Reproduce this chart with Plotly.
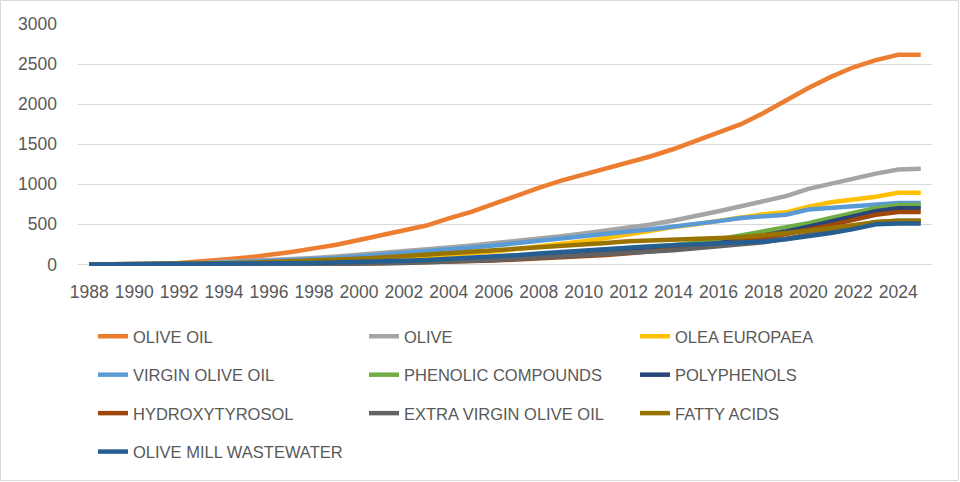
import plotly.graph_objects as go

years = list(range(1988, 2026))

olive_oil = [0, 1, 3, 8, 18, 35, 60, 85, 115, 155, 200, 245, 305, 365, 425, 485, 575, 655, 755, 860,
             955, 1045, 1120, 1195, 1270, 1350, 1440, 1540, 1640, 1750, 1890, 2050, 2200, 2340, 2460,
             2550, 2615, 2615]
olive = [0, 0, 2, 5, 10, 18, 28, 40, 52, 65, 80, 98, 118, 140, 162, 185, 210, 235, 262, 290,
         320, 350, 385, 420, 455, 498, 548, 602, 664, 726, 790, 851, 942, 1008, 1067, 1133, 1183, 1195]
olea_europaea = [0, 0, 0, 1, 3, 6, 10, 14, 20, 27, 35, 45, 57, 70, 85, 100, 118, 138, 160, 190,
                 220, 255, 290, 330, 375, 425, 465, 500, 545, 590, 625, 650, 720, 775, 810, 845, 895, 895]
virgin_olive_oil = [0, 0, 1, 3, 7, 13, 20, 30, 40, 52, 65, 80, 98, 118, 140, 165, 190, 210, 235, 262,
                    290, 315, 345, 375, 410, 440, 470, 500, 540, 580, 600, 620, 685, 706, 726, 747, 765, 765]
phenolic_compounds = [0, 0, 0, 0, 1, 1, 2, 3, 5, 7, 10, 14, 18, 24, 31, 40, 50, 62, 75, 90,
                      105, 122, 140, 160, 185, 210, 240, 270, 310, 360, 410, 455, 515, 580, 645, 705, 740, 740]
polyphenols = [0, 0, 0, 0, 1, 1, 2, 3, 4, 6, 8, 11, 15, 20, 26, 33, 42, 52, 63, 76,
               90, 105, 122, 140, 160, 182, 205, 230, 265, 310, 360, 410, 470, 535, 600, 665, 700, 700]
hydroxytyrosol = [0, 0, 0, 0, 0, 1, 1, 2, 3, 4, 6, 8, 11, 15, 20, 26, 33, 41, 50, 60,
                  72, 85, 100, 118, 138, 160, 185, 212, 245, 285, 330, 380, 430, 490, 555, 620, 655, 655]
extra_virgin_olive_oil = [0, 0, 0, 0, 0, 0, 1, 1, 2, 3, 4, 6, 9, 13, 18, 25, 33, 42, 55, 70,
                          85, 100, 112, 122, 135, 152, 175, 200, 222, 242, 275, 320, 375, 430, 480, 530, 545, 545]
fatty_acids = [0, 0, 1, 2, 4, 8, 13, 20, 28, 37, 47, 58, 70, 85, 102, 120, 138, 155, 172, 190,
               208, 228, 248, 268, 288, 300, 310, 318, 325, 340, 365, 390, 420, 455, 490, 525, 545, 545]
olive_mill_wastewater = [0, 0, 0, 1, 2, 3, 5, 7, 10, 13, 18, 22, 28, 36, 45, 55, 68, 82, 98, 115,
                         135, 155, 175, 195, 212, 225, 238, 248, 255, 262, 285, 315, 350, 390, 440, 500, 510, 510]

series_names = ["OLIVE OIL", "OLIVE", "OLEA EUROPAEA", "VIRGIN OLIVE OIL", "PHENOLIC COMPOUNDS",
                "POLYPHENOLS", "HYDROXYTYROSOL", "EXTRA VIRGIN OLIVE OIL", "FATTY ACIDS",
                "OLIVE MILL WASTEWATER"]
series_values = [olive_oil, olive, olea_europaea, virgin_olive_oil, phenolic_compounds, polyphenols,
                 hydroxytyrosol, extra_virgin_olive_oil, fatty_acids, olive_mill_wastewater]
colors = ["#ED7D31", "#A5A5A5", "#FFC000", "#5B9BD5", "#70AD47", "#264478", "#9E480E",
          "#636363", "#997300", "#255E91"]

x_tick_vals = list(range(1988, 2025, 2))
x_tick_text = [str(v) for v in x_tick_vals]
y_tick_vals = [0, 500, 1000, 1500, 2000, 2500, 3000]

W, H = 960, 482
ML, MR, MT, MB = 78, 28, 24, 216
FONT = "Liberation Sans, Arial, sans-serif"
TXT = "#595959"

# legend columns (Excel lays the legend out row by row in 3 columns)
legend_ids = ["legend", "legend2", "legend3"]

fig = go.Figure()
for i, (name, vals, col) in enumerate(zip(series_names, series_values, colors)):
    fig.add_trace(go.Scatter(
        x=years, y=vals, name=name, mode="lines",
        line=dict(color=col, width=4.5),
        legend=legend_ids[i % 3], legendgroup=name,
        hoverinfo="x+y+name",
    ))

col_x = [93, 364, 635]
legend_common = dict(
    orientation="v", xref="container", yref="container", xanchor="left", yanchor="top",
    y=1 - 319 / H, font=dict(family=FONT, size=16.5, color=TXT),
    bgcolor="rgba(0,0,0,0)", tracegroupgap=14, traceorder="grouped",
)
layout_legends = {lid: dict(legend_common, x=cx / W) for lid, cx in zip(legend_ids, col_x)}

fig.update_layout(
    width=W, height=H,
    margin=dict(l=ML, r=MR, t=MT, b=MB, autoexpand=False),
    paper_bgcolor="white", plot_bgcolor="white",
    font=dict(family=FONT, size=16.5, color=TXT),
    showlegend=True,
    **layout_legends,
    xaxis=dict(
        range=[1987.5, 2025.5], tickvals=x_tick_vals, ticktext=x_tick_text,
        showgrid=False, zeroline=False, showline=False, ticks="",
        ticklabelstandoff=13, tickfont=dict(family=FONT, size=17.5, color=TXT),
    ),
    yaxis=dict(
        range=[-20, 3000], tickvals=y_tick_vals, showgrid=True, gridcolor="#D9D9D9",
        gridwidth=1, zeroline=False, showline=False, ticks="",
        ticklabelstandoff=20, tickfont=dict(family=FONT, size=17.5, color=TXT),
    ),
    shapes=[dict(type="rect", xref="paper", yref="paper",
                 x0=(0.5 - ML) / (W - ML - MR), x1=(958.5 - ML) / (W - ML - MR),
                 y0=(H - MB - 480.5) / (H - MT - MB), y1=(H - MB - 0.5) / (H - MT - MB),
                 line=dict(color="#D9D9D9", width=1), layer="below")],
)

fig.write_html("out.html", config={"displayModeBar": False},
               post_script="document.body.style.margin='0';")
